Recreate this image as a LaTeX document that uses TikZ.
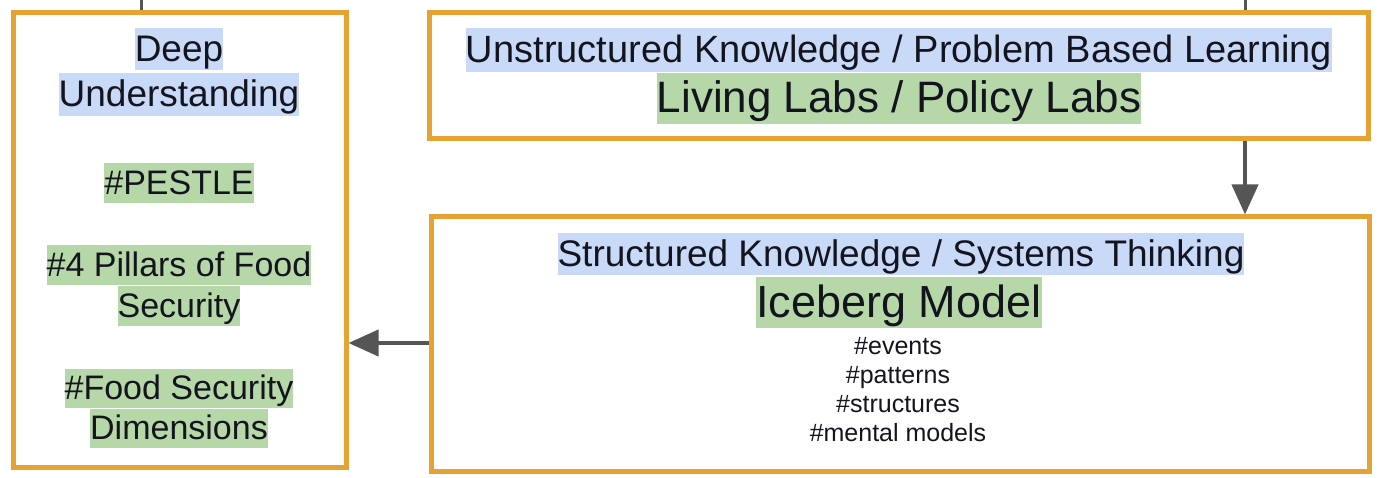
\documentclass[tikz,border=0pt]{standalone}
\usepackage{fontspec}
\setmainfont{Liberation Sans}
\usetikzlibrary{arrows.meta}
\definecolor{boxorange}{RGB}{231,162,52}
\definecolor{hlblue}{RGB}{201,218,248}
\definecolor{hlgreen}{RGB}{182,215,168}
\definecolor{arrowgray}{RGB}{85,85,85}
\definecolor{txt}{RGB}{20,20,30}
\newcommand{\fs}[1]{\fontsize{#1}{#1}\selectfont}
\tikzset{
  framebox/.style={draw=boxorange, line width=5pt, fill=none, inner sep=0pt},
  hl/.style={fill=#1, inner sep=0pt, text=txt},
  hlb/.style={hl=hlblue},
  hlg/.style={hl=hlgreen},
  sz/.style={font=\fs{#1}, text height=0.9*#1 pt, text depth=0.25*#1 pt},
  arr/.style={draw=arrowgray, line width=4pt, -{Triangle[length=30pt,width=26pt]}},
  stub/.style={draw=arrowgray, line width=3pt}
}
\begin{document}
\begin{tikzpicture}[x=1pt,y=-1pt]
\useasboundingbox[fill=white] (0,0) rectangle (1390,478);
% boxes
\node[framebox, minimum width=333pt, minimum height=454pt] (left) at (179.5,240) {};
\node[framebox, minimum width=939pt, minimum height=126pt] (top) at (898.5,76) {};
\node[framebox, minimum width=938pt, minimum height=254pt] (bot) at (900,344) {};
% left box text
\node[hlb, sz=37] (deep) at (179,49) {Deep};
\node[hlb, sz=37] (under) at (179,94.5) {Understanding};
\node[hlg, sz=34] (pestle) at (179,183) {\#PESTLE};
\node[hlg, sz=34] (pill1) at (179,265) {\#4 Pillars of Food};
\node[hlg, sz=34] (pill2) at (179,306) {Security};
\node[hlg, sz=34] (dim1) at (179,388.5) {\#Food Security};
\node[hlg, sz=34] (dim2) at (179,428.5) {Dimensions};
% top box text
\node[hlb, sz=38] (unstr) at (899,50) {Unstructured Knowledge / Problem Based Learning};
\node[hlg, sz=44] (living) at (899,98.5) {Living Labs / Policy Labs};
% bottom box text
\node[hlb, sz=37] (struct) at (901,254) {Structured Knowledge / Systems Thinking};
\node[hlg, sz=45] (ice) at (899,302.5) {Iceberg Model};
\node[text=txt, align=center, font=\fontsize{25}{29}\selectfont, inner sep=0pt] (tags) at (898,390)
  {\#events\\\#patterns\\\#structures\\\#mental models};
% connectors
\coordinate (dx) at (1245,0);
\coordinate (ay) at (0,343);
\coordinate (s1) at (141,0);
\coordinate (s2) at (1245,0);
\draw[arr] (top.south -| dx) -- (bot.north -| dx);
\draw[arr] (bot.west |- ay) -- (left.east |- ay);
\draw[stub] (s1) -- (left.north -| s1);
\draw[stub] (s2) -- (top.north -| s2);
\end{tikzpicture}
\end{document}
